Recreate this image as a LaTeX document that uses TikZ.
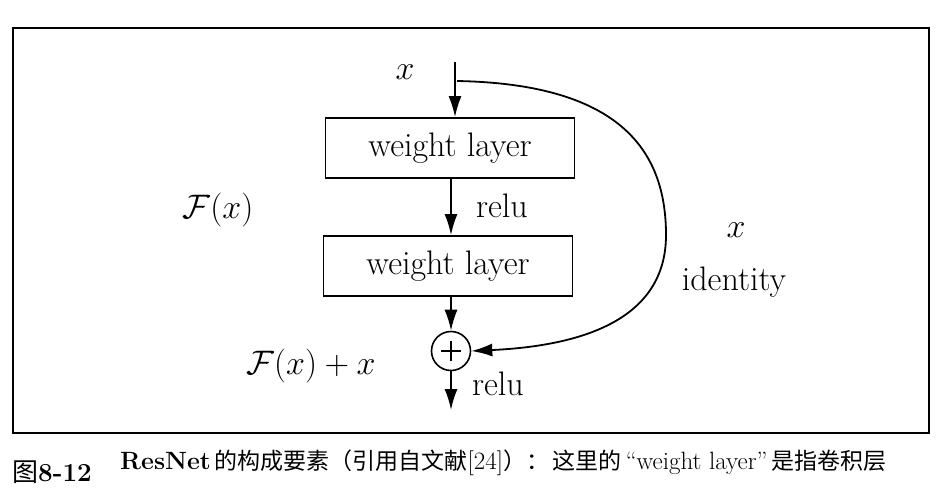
\RequirePackage{fix-cm}
\documentclass[tikz,border=0pt]{standalone}
\usepackage{fontspec}
\newfontfamily\cjk{Noto Sans CJK SC}
\usetikzlibrary{arrows.meta}
\newcommand\latpart[1]{{\fontsize{25}{28}\selectfont #1}}
\begin{document}
\begin{tikzpicture}[x=1pt,y=-1pt,
  big/.style={font=\fontsize{34}{40}\selectfont},
  layerbox/.style={draw,line width=1.8pt,minimum width=249pt,minimum height=60pt,inner sep=0pt,big},
  conn/.style={line width=1.8pt,-{Latex[length=21pt,width=13pt]}},
  sumnode/.style={draw,circle,line width=1.6pt,minimum size=39pt,inner sep=0pt},
  lbl/.style={big,inner sep=0pt},
  captext/.style={font=\fontsize{23}{28}\selectfont,inner sep=0pt,anchor=west}]
\useasboundingbox (0,0) rectangle (936,501);
% frame
\draw[line width=1.4pt] (13,28) rectangle (929,433);
% nodes
\coordinate (in) at (455,62);
\coordinate (split) at (457,81);
\node[layerbox] (b1) at (450,148) {weight layer};
\node[layerbox] (b2) at (448,266) {weight layer};
\node[sumnode] (s) at (451,351) {};
\draw[line width=1.2pt] ([xshift=-10pt]s.center) -- ([xshift=10pt]s.center)
                        ([yshift=-10pt]s.center) -- ([yshift=10pt]s.center);
\coordinate (out) at (451,410);
% labels
\node[lbl] (lx) at (405,72) {$x$};
\node[lbl] (lr1) at (502,206) {relu};
\node[lbl] (lr2) at (498,384) {relu};
\node[lbl] (lF) at (218,210) {$\mathcal{F}(x)$};
\node[lbl] (lFx) at (311,366) {$\mathcal{F}(x)+x$};
\node[lbl] (lx2) at (736,230) {$x$};
\node[lbl] (lid) at (734,282) {identity};
% connectors
\draw[conn] (in) -- (in |- b1.north);
\draw[conn] (b1.south -| s) -- (b2.north -| s);
\draw[conn] (b2.south -| s) -- (s.north);
\draw[conn] (s.south) -- (out);
\draw[conn] (split) .. controls (625,84) and (666,155) .. (666,235)
  .. controls (666,310) and (600,345) .. (s.east);
% caption
\node[captext,font=\fontsize{26}{30}\selectfont] (c1) at (12,472) {{\cjk 图}\textbf{8-12}};
\node[captext] (c2) at (120,463) {\latpart{\textbf{ResNet}}\,{\cjk 的构成要素（引用自文献}\latpart{[24]}{\cjk ）：}\,{\cjk 这里的}\,\latpart{“weight layer”}\,{\cjk 是指卷积层}};
\end{tikzpicture}
\end{document}
